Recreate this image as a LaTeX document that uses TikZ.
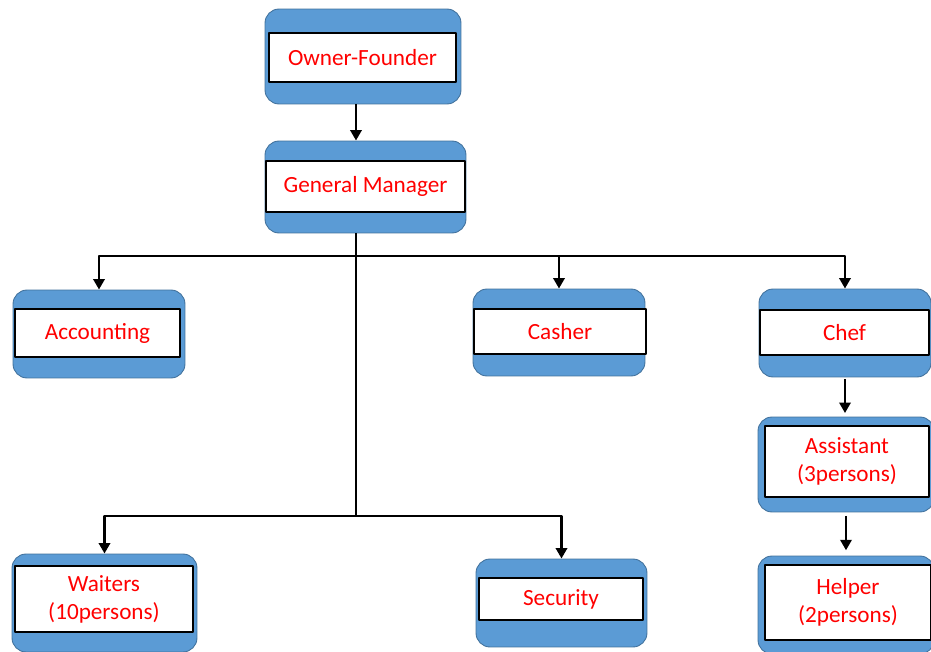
\documentclass[tikz,border=0pt]{standalone}
\usepackage{fontspec}
\setmainfont{Carlito}
\usetikzlibrary{arrows.meta}
\definecolor{boxblue}{HTML}{5B9BD5}
\definecolor{boxedge}{HTML}{41719C}
\begin{document}
\begin{tikzpicture}[x=0.02cm, y=-0.02cm, line join=round,
	bluebox/.style={fill=boxblue, draw=boxedge, line width=.5pt, rounded corners=8pt, inner sep=0pt},
	namebox/.style={fill=white, draw=black, line width=1pt, inner sep=0pt, align=center, text=red,
		font=\fontsize{13.2}{16}\selectfont},
	arr/.style={line width=1.7pt, -{Triangle[length=6pt,width=6.4pt]}}]
	\useasboundingbox (0,0) rectangle (931,652);
	% blue frames
	\node[bluebox, minimum width=3.92cm, minimum height=1.9cm] (own) at (363,56.5) {};
	\node[bluebox, minimum width=4.02cm, minimum height=1.84cm] (gm) at (365.5,187) {};
	\node[bluebox, minimum width=3.44cm, minimum height=1.76cm] (acc) at (99,334) {};
	\node[bluebox, minimum width=3.44cm, minimum height=1.74cm] (cash) at (559,332.5) {};
	\node[bluebox, minimum width=3.44cm, minimum height=1.76cm] (chef) at (845,333) {};
	\node[bluebox, minimum width=3.52cm, minimum height=1.9cm] (asst) at (846,464.5) {};
	\node[bluebox, minimum width=3.52cm, minimum height=1.96cm] (help) at (846,605) {};
	\node[bluebox, minimum width=3.7cm, minimum height=1.96cm] (wait) at (104.5,603) {};
	\node[bluebox, minimum width=3.42cm, minimum height=1.76cm] (sec) at (561.5,603) {};
	% white name boxes
	\node[namebox, minimum width=3.74cm, minimum height=0.98cm] (own-t) at (362.5,57.5) {Owner-Founder};
	\node[namebox, minimum width=3.98cm, minimum height=1.02cm] (gm-t) at (365.5,186.5) {General Manager};
	\node[namebox, minimum width=3.3cm, minimum height=0.96cm] (acc-t) at (97.5,333) {Accounting};
	\node[namebox, minimum width=3.44cm, minimum height=0.9cm] (cash-t) at (560,331.5) {Casher};
	\node[namebox, minimum width=3.38cm, minimum height=0.9cm] (chef-t) at (844.5,332.5) {Chef};
	\node[namebox, minimum width=3.28cm, minimum height=1.42cm] (asst-t) at (847,461.5) {Assistant\\(3persons)};
	\node[namebox, minimum width=3.32cm, minimum height=1.5cm] (help-t) at (848,602.5) {Helper\\(2persons)};
	\node[namebox, minimum width=3.56cm, minimum height=1.32cm] (wait-t) at (104,599) {Waiters\\(10persons)};
	\node[namebox, minimum width=3.28cm, minimum height=0.84cm] (sec-t) at (561,599) {Security};
	% connectors
	\coordinate (trunk) at (356,256);
	\coordinate (split) at (356,516);
	\draw[arr] (own.south -| trunk) -- (gm.north -| trunk);
	\draw[line width=1.7pt] (gm.south -| trunk) -- (split);
	\draw[arr] (trunk) -| (acc.north);
	\draw[arr] (trunk) -| (cash.north);
	\draw[arr] (trunk) -| (chef.north);
	\draw[arr] (split) -| (wait.north);
	\draw[arr] (split) -| (sec.north);
	\draw[arr, shorten <=1pt, shorten >=2pt] (chef.south) -- (chef.south |- asst.north);
	\draw[arr, shorten <=2pt, shorten >=3pt] (asst.south) -- (asst.south |- help.north);
\end{tikzpicture}
\end{document}
